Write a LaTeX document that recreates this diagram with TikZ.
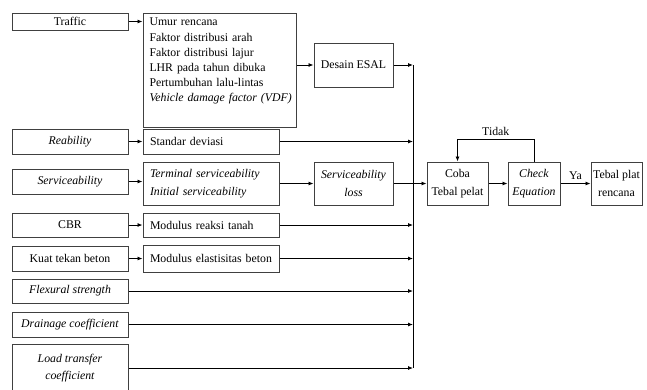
\documentclass[tikz,border=0pt]{standalone}
\usepackage{fontspec}
\setmainfont{Liberation Serif}
\usetikzlibrary{arrows.meta}

\begin{document}
\begin{tikzpicture}[x=1pt, y=-1pt, >={Latex[length=5pt,width=4pt]}, font=\fontsize{11.8}{17.5}\selectfont]
	\tikzstyle{part}=[rectangle, draw=black!75, line width=1pt, inner sep=1pt, align=center]
	\tikzstyle{leftpart}=[part, minimum width=116pt, minimum height=25pt]
	\tikzstyle{midpart}=[part, text width=122pt, inner xsep=7pt, minimum height=25pt, align=left]
	\tikzstyle{procpart}=[part, minimum height=43pt]
	\useasboundingbox (0,0) rectangle (647,389);

	\node[leftpart, minimum height=17pt] (traffic) at (70,21.5) {Traffic};
	\node[part, text width=148pt, inner xsep=2.5pt, minimum height=114pt, align=left, font=\fontsize{11.8}{15.2}\selectfont] (params) at (219.5,70) {
		\hspace*{4pt}Umur rencana\\
		\hspace*{4pt}Faktor distribusi arah\\
		\hspace*{4pt}Faktor distribusi lajur\\
		\hspace*{4pt}LHR pada tahun dibuka\\
		\hspace*{4pt}Pertumbuhan lalu-lintas\\
		\hspace*{4pt}\emph{Vehicle damage factor (VDF)}\\
		\strut
	};
	\node[part, minimum width=79pt, minimum height=44pt] (esal) at (353.5,65) {Desain ESAL};

	\node[leftpart] (reab) at (70,141.5) {\emph{Reability}};
	\node[midpart] (stdev) at (211,141.5) {Standar deviasi};

	\node[leftpart] (svc) at (70,181.5) {\emph{Serviceability}};
	\node[midpart, minimum height=43pt] (term) at (211,183.5) {\emph{Terminal serviceability}\\ \emph{Initial serviceability}};
	\node[procpart, minimum width=79pt] (svcloss) at (353.5,183.5) {\emph{Serviceability}\\ \emph{loss}};

	\node[leftpart, minimum height=24pt] (cbr) at (70,225) {CBR};
	\node[midpart, minimum height=24pt] (kreaksi) at (211,225) {Modulus reaksi tanah};

	\node[leftpart] (kuat) at (70,258.5) {Kuat tekan beton};
	\node[midpart, minimum height=27pt] (elast) at (211,258.5) {Modulus elastisitas beton};

	\node[leftpart, minimum height=24pt] (flex) at (70,291) {\emph{Flexural strength}};
	\node[leftpart] (drain) at (70,324.5) {\emph{Drainage coefficient}};
	\node[leftpart, minimum height=48pt] (load) at (70,368) {\emph{Load transfer}\\ \emph{coefficient}};

	\node[procpart, minimum width=61pt] (coba) at (457.5,183.5) {Coba\\ Tebal pelat};
	\node[procpart, minimum width=52pt] (check) at (534,183.5) {\emph{Check}\\ \emph{Equation}};
	\node[procpart, minimum width=51pt] (tebal) at (616.5,183.5) {Tebal plat\\ rencana};

	\coordinate (bus) at (413,0);

	\path[->, line width=0.8pt]
		(traffic) edge (traffic -| params.west)
		(params.east |- esal) edge (esal)
		(esal) edge (esal -| bus)
		(reab) edge (stdev)
		(stdev) edge (stdev -| bus)
		(svc) edge (svc -| term.west)
		(term) edge (svcloss)
		(svcloss) edge (coba)
		(cbr) edge (kreaksi)
		(kreaksi) edge (kreaksi -| bus)
		(kuat) edge (elast)
		(elast) edge (elast -| bus)
		(flex) edge (flex -| bus)
		(drain) edge (drain -| bus)
		(load) edge (load -| bus)
		(coba) edge (check)
		(check) edge node[above] {Ya} (tebal);
	\draw[line width=0.8pt] (esal -| bus) -- (load -| bus);
	\draw[->, line width=0.8pt] (check.north) -- ++(0,-22) -| node[above, pos=0.25] {Tidak} (coba.north);

\end{tikzpicture}
\end{document}
